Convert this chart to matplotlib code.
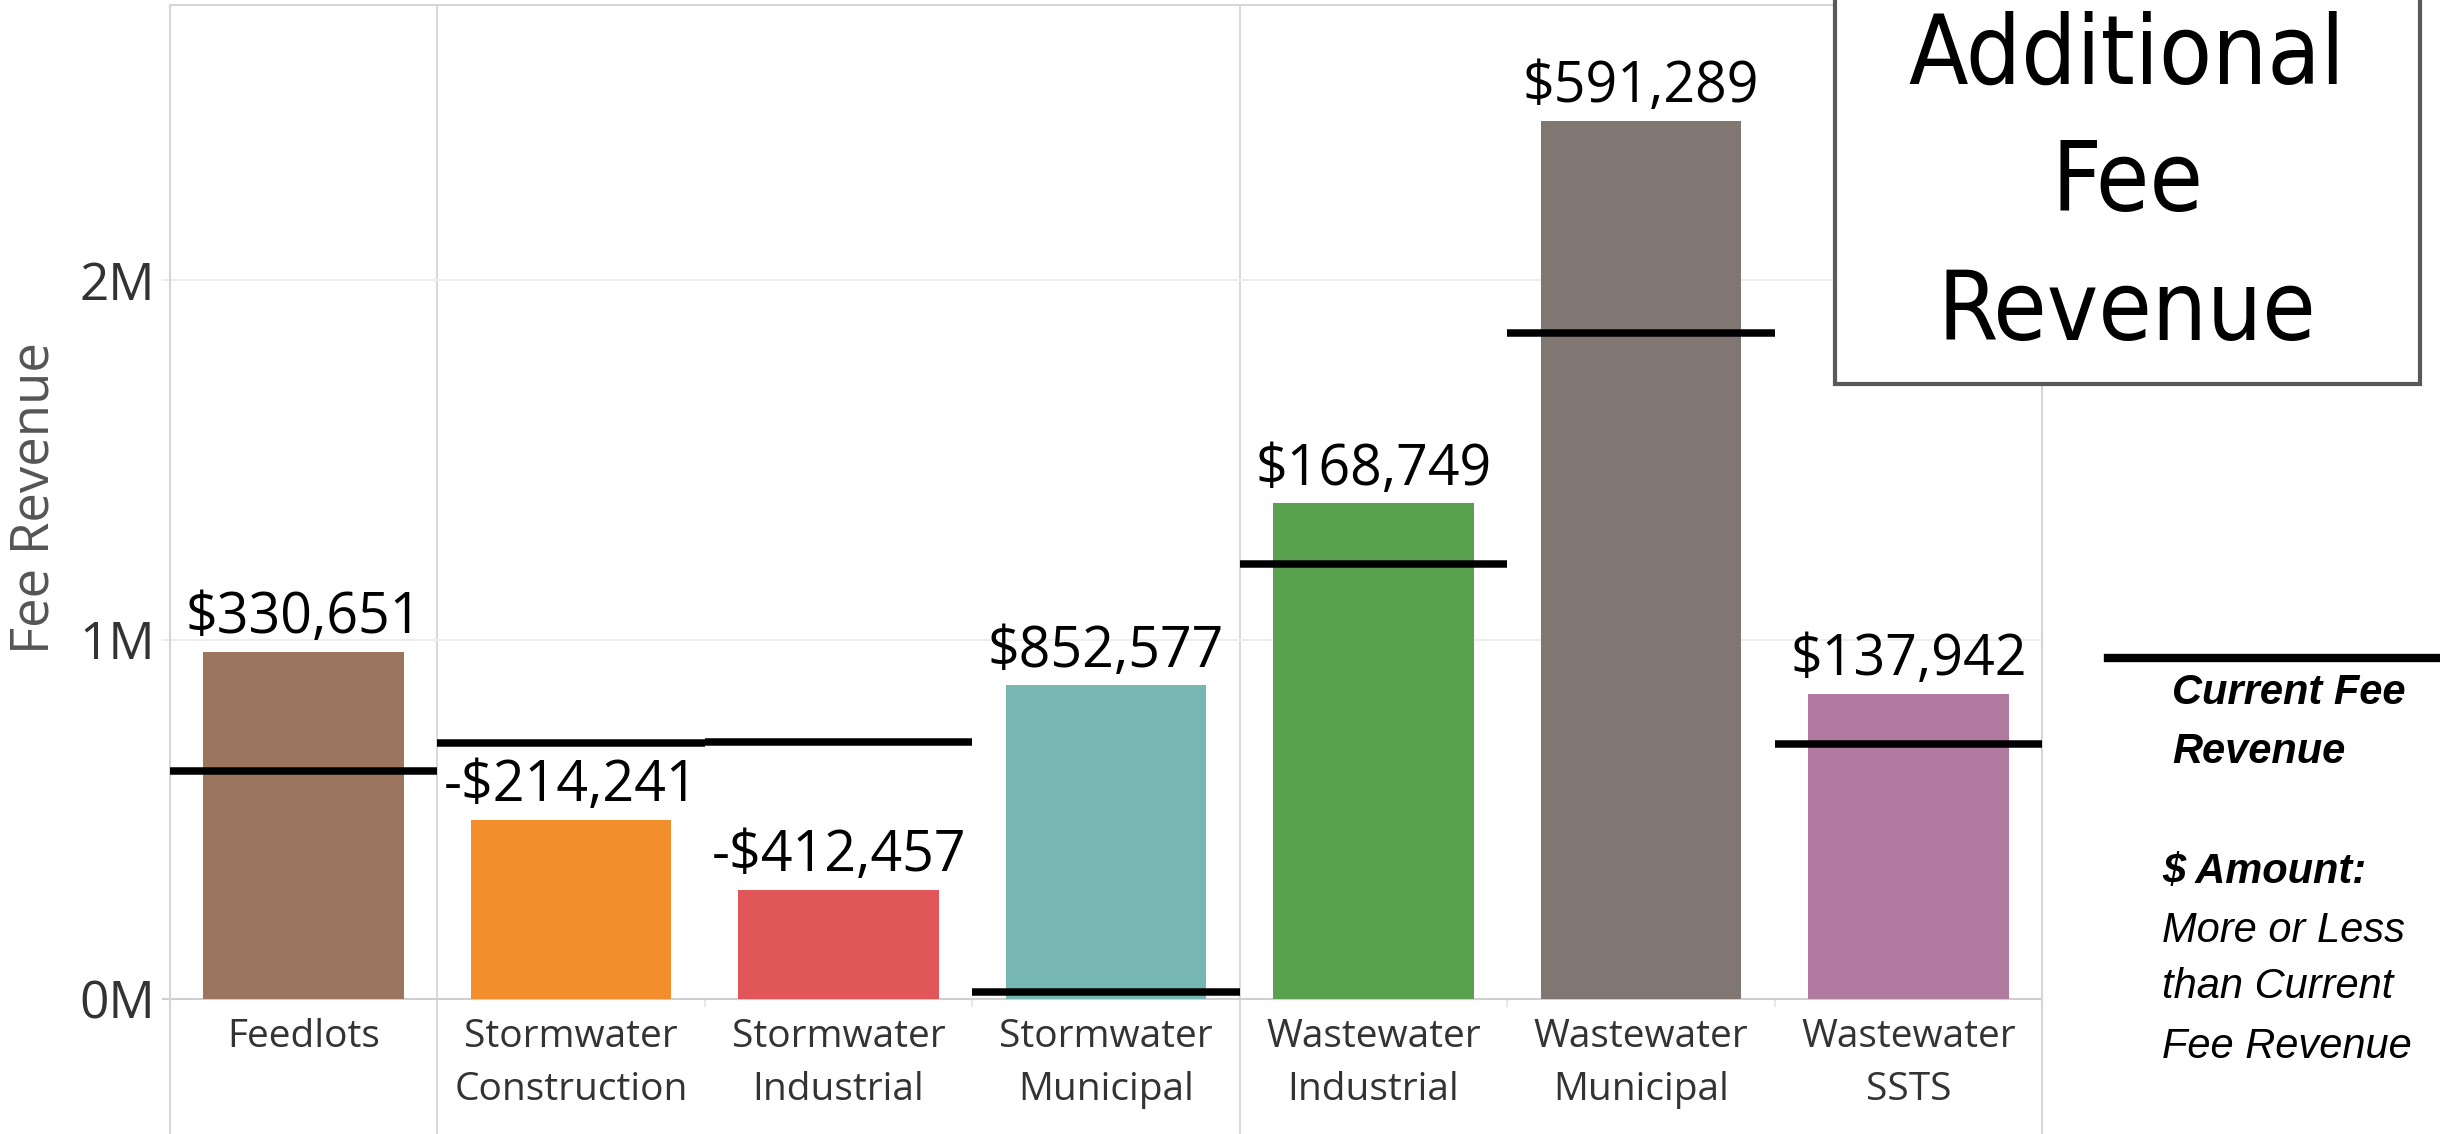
import os
import matplotlib
matplotlib.use("Agg")
import matplotlib.pyplot as plt
from matplotlib import font_manager
from matplotlib.font_manager import FontProperties
from matplotlib.patches import Rectangle
from matplotlib.lines import Line2D
from matplotlib.transforms import blended_transform_factory

# ---------------- data ----------------
categories = ["Feedlots", "Stormwater\nConstruction", "Stormwater\nIndustrial",
              "Stormwater\nMunicipal", "Wastewater\nIndustrial",
              "Wastewater\nMunicipal", "Wastewater\nSSTS"]
category_groups = ["Feedlots", "Stormwater", "Stormwater", "Stormwater",
                   "Wastewater", "Wastewater", "Wastewater"]
current_revenue = [634000, 712000, 715000, 20000, 1210000, 1852000, 710000]
additional_revenue = [330651, -214241, -412457, 852577, 168749, 591289, 137942]
bar_colors = ["#9c755f", "#f28e2b", "#e15759", "#76b7b2", "#59a14f", "#807672", "#b07aa1"]
y_ticks = [0, 1000000, 2000000]
y_tick_labels = ["0M", "1M", "2M"]
title_lines = ["Additional", "Fee", "Revenue"]
legend_lines = ["Current Fee", "Revenue"]
note_head = "$ Amount:"
note_lines = ["More or Less", "than Current", "Fee Revenue"]

proposed_revenue = [c + a for c, a in zip(current_revenue, additional_revenue)]


def fmt_money(v):
    return ("-$" if v < 0 else "$") + f"{abs(v):,}"


# ---------------- fonts ----------------
names = {f.name for f in font_manager.fontManager.ttflist}
main_font = "Open Sans" if "Open Sans" in names else "DejaVu Sans"
legend_font = "Liberation Sans" if "Liberation Sans" in names else "DejaVu Sans"
plt.rcParams["font.family"] = [main_font, "DejaVu Sans"]

# find a narrow / condensed regular face for the title
narrow_path = None
prefs = ["liberationsansnarrow-regular", "dejavusanscondensed.", "robotocondensed-regular",
         "roboto-condensed", "opensans-condensed", "opensans_condensed-regular",
         "notosans-condensed.", "notosanscondensed-regular"]
files = [f.fname for f in font_manager.fontManager.ttflist]
for p in prefs:
    for fn in files:
        if p in os.path.basename(fn).lower():
            narrow_path = fn
            break
    if narrow_path:
        break
if narrow_path:
    title_fp = FontProperties(fname=narrow_path)
else:
    title_fp = FontProperties(family=legend_font)

W, H = 2440, 1134
fig = plt.figure(figsize=(W / 100, H / 100), dpi=100)
fig.patch.set_facecolor("white")

px_per_M = 359.5
zero_px = 999
top_px = 5
ymin = -(H - zero_px) / px_per_M * 1e6
ymax = (zero_px - top_px) / px_per_M * 1e6

ax_left, ax_right = 170, 2042
ax = fig.add_axes([ax_left / W, 0, (ax_right - ax_left) / W, (H - top_px) / H])
n = len(categories)
x = list(range(n))
ax.set_xlim(-0.5, n - 0.5)
ax.set_ylim(ymin, ymax)

sep_color = "#d6d6d6"
for side in ["left", "top", "right"]:
    ax.spines[side].set_color(sep_color)
    ax.spines[side].set_linewidth(1.5)
ax.spines["bottom"].set_visible(False)

# separators: full height between groups, small ticks within groups
tick_len = 8 / px_per_M * 1e6
for i in range(n - 1):
    if category_groups[i] != category_groups[i + 1]:
        ax.axvline(i + 0.5, color=sep_color, lw=1.3, zorder=0.5)
    else:
        ax.vlines(i + 0.5, -tick_len, 0, color="#e4e4e4", lw=1.2, zorder=0.5)

# horizontal gridlines (extend a bit left of axis)
cat_px = (ax_right - ax_left) / n
ext = 8 / cat_px
ax.hlines([t for t in y_ticks if t != 0], -0.5 - ext, n - 0.5, color="#eeeeee", lw=1.5,
          zorder=0.5, clip_on=False)
ax.hlines([0], -0.5 - ext, n - 0.5, color="#cfcfcf", lw=1.5, zorder=0.6, clip_on=False)

# bars
ax.bar(x, proposed_revenue, width=0.75, color=bar_colors, zorder=2)

# current revenue reference lines
ax.hlines(current_revenue, [i - 0.5 for i in x], [i + 0.5 for i in x],
          color="black", lw=5.4, zorder=3)

# bar labels
for i, (p, a) in enumerate(zip(proposed_revenue, additional_revenue)):
    ax.annotate(fmt_money(a), (i, p), xytext=(0, 13.5), textcoords="offset points",
                ha="center", va="baseline", fontsize=40, color="black", zorder=4)

# y axis
ax.set_yticks(y_ticks)
ax.set_yticklabels(y_tick_labels)
ax.tick_params(axis="y", length=0, pad=11, labelsize=37, labelcolor="#333333")
ax.tick_params(axis="x", bottom=False, labelbottom=False)
fig.text(35 / W, 1 - 498 / H, "Fee Revenue", rotation=90, ha="center", va="center",
         fontsize=38, color="#555555")

# category labels
tr = blended_transform_factory(ax.transData, fig.transFigure)
baselines = [1047, 1100]
for i, cat in enumerate(categories):
    for j, line in enumerate(cat.split("\n")):
        ax.text(i, 1 - baselines[j] / H, line, transform=tr, ha="center", va="baseline",
                fontsize=28, color="#333333", clip_on=False)

# title box
box = Rectangle((1835 / W, 1 - 384 / H), (2420 - 1835) / W, (384 + 30) / H,
                transform=fig.transFigure, facecolor="white", edgecolor="#595959",
                lw=3, zorder=5)
fig.add_artist(box)
renderer = fig.canvas.get_renderer()
probe = fig.text(0, 0, title_lines[0], fontproperties=title_fp.copy())
probe.set_fontsize(80)
w80 = probe.get_window_extent(renderer).width
probe.remove()
title_size = min(82, 80 * 437 / w80)
for line, base in zip(title_lines, [84, 211, 340]):
    t = fig.text(2127 / W, 1 - base / H, line, ha="center", va="baseline",
                 fontproperties=title_fp.copy(), color="black", zorder=6)
    t.set_fontsize(title_size)

# legend
fig.add_artist(Line2D([2108 / W, 1.0], [1 - 658 / H] * 2, transform=fig.transFigure,
                      color="black", lw=6))
for line, base in zip(legend_lines, [704, 763]):
    fig.text(2172 / W, 1 - base / H, line, ha="left", va="baseline", fontsize=30,
             family=legend_font, style="italic", weight="bold")
fig.text(2162 / W, 1 - 884 / H, note_head, ha="left", va="baseline", fontsize=30,
         family=legend_font, style="italic", weight="bold")
for line, base in zip(note_lines, [942, 998, 1058]):
    fig.text(2162 / W, 1 - base / H, line, ha="left", va="baseline", fontsize=30,
             family=legend_font, style="italic")

fig.savefig("out.png", dpi=100)
